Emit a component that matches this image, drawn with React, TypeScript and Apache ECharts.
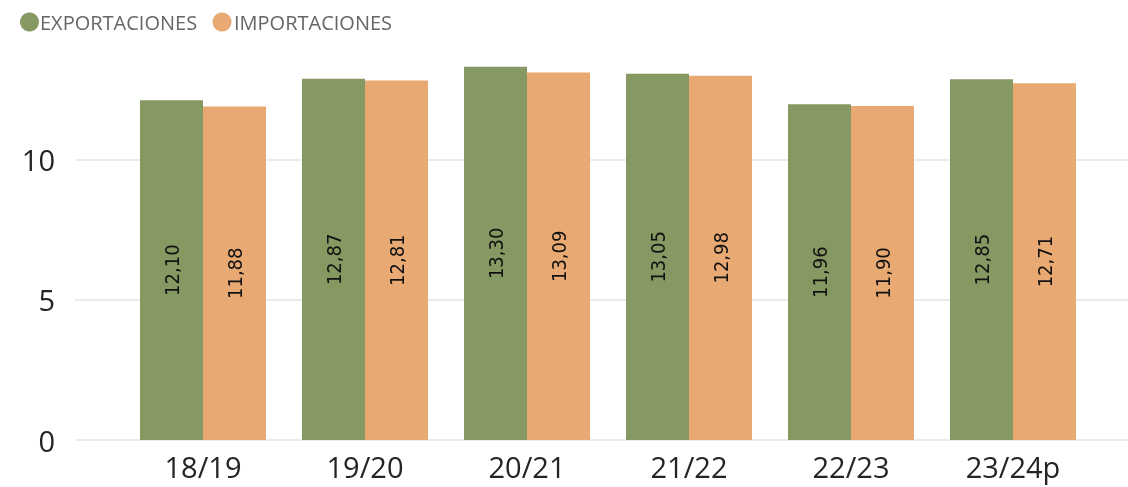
import React, { useEffect, useRef } from "react";
import * as echarts from "echarts";

const categories = ["18/19", "19/20", "20/21", "21/22", "22/23", "23/24p"];
const seriesNames = ["EXPORTACIONES", "IMPORTACIONES"];
const exportaciones = [12.1, 12.87, 13.3, 13.05, 11.96, 12.85];
const importaciones = [11.88, 12.81, 13.09, 12.98, 11.9, 12.71];
const yTicks = [0, 5, 10];

const GREEN = "#879962";
const ORANGE = "#E8A973";

export default function App() {
  const ref = useRef<HTMLDivElement>(null);
  useEffect(() => {
    if (!ref.current) return;
    const chart = echarts.init(ref.current, undefined, { renderer: "svg" });
    const fmt = (v: number) => v.toFixed(2).replace(".", ",");
    const labelCfg = {
      show: true,
      position: "inside",
      rotate: 90,
      color: "#111",
      fontFamily: "DejaVu Sans Condensed",
      fontSize: 20,
      formatter: (p: any) => fmt(p.value),
    };
    const legendFont = "20px 'Open Sans'";
    chart.setOption({
      animation: false,
      legend: { show: false, data: seriesNames },
      graphic: [
        { type: "circle", shape: { cx: 29.5, cy: 22, r: 9.5 }, style: { fill: GREEN } },
        {
          type: "text",
          x: 40,
          y: 22,
          style: { text: seriesNames[0], font: legendFont, fill: "#666666", verticalAlign: "middle" },
        },
        { type: "circle", shape: { cx: 222, cy: 22, r: 9.5 }, style: { fill: ORANGE } },
        {
          type: "text",
          x: 234,
          y: 22,
          style: { text: seriesNames[1], font: legendFont, fill: "#666666", verticalAlign: "middle" },
        },
      ],
      grid: [
        { left: 75, right: 0, top: 47, bottom: 47, containLabel: false },
        { left: 122, right: 34, top: 47, bottom: 47, containLabel: false },
      ],
      xAxis: [
        { type: "value", gridIndex: 0, show: false, min: 0, max: 1 },
        {
          type: "category",
          gridIndex: 1,
          data: categories,
          axisLine: { show: false },
          axisTick: { show: false },
          axisLabel: {
            fontFamily: "Open Sans",
            fontSize: 29,
            color: "#252423",
            margin: 12,
          },
        },
      ],
      yAxis: [
        {
          type: "value",
          gridIndex: 0,
          min: 0,
          max: 14,
          interval: 5,
          axisLine: { show: false },
          axisTick: { show: false },
          axisLabel: {
            fontFamily: "Open Sans",
            fontSize: 29,
            color: "#252423",
            margin: 20,
            formatter: (v: number) => (yTicks.includes(v) ? String(v) : ""),
          },
          splitLine: { showMaxLine: false, lineStyle: { color: "#E6E6E6", width: 1.5 } },
        },
        {
          type: "value",
          gridIndex: 1,
          min: 0,
          max: 14,
          interval: 5,
          show: false,
          splitLine: { show: false },
        },
      ],
      series: [
        {
          name: seriesNames[0],
          type: "bar",
          xAxisIndex: 1,
          yAxisIndex: 1,
          data: exportaciones,
          barWidth: 63,
          barGap: "0%",
          itemStyle: { color: GREEN },
          label: labelCfg,
        },
        {
          name: seriesNames[1],
          type: "bar",
          xAxisIndex: 1,
          yAxisIndex: 1,
          data: importaciones,
          barWidth: 63,
          barGap: "0%",
          itemStyle: { color: ORANGE },
          label: labelCfg,
        },
      ],
    });
    return () => chart.dispose();
  }, []);
  return (
    <div
      ref={ref}
      style={{ position: "fixed", left: 0, top: 0, width: 1128, height: 487 }}
    />
  );
}
